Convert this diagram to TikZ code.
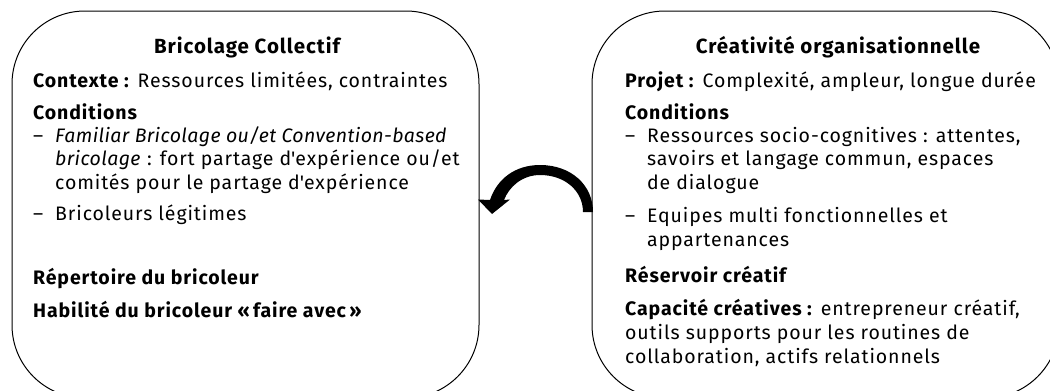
\documentclass[tikz,border=0pt]{standalone}
\usepackage{fontspec}
\setmainfont[LetterSpace=4.6, ItalicFeatures={LetterSpace=2.0}]{Fira Sans}
\begin{document}
\begin{tikzpicture}[x=1pt,y=-1pt,
  txt/.style={anchor=base west, inner sep=0pt, font=\fontsize{19.5}{23}\selectfont},
  ttl/.style={anchor=base, inner sep=0pt, font=\fontsize{20.5}{24}\selectfont\bfseries},
  panel/.style={draw, line width=1pt, rounded corners=73pt, minimum width=467pt, minimum height=387pt, inner sep=0pt}]
\useasboundingbox (0,0) rectangle (1050,391);
\begin{scope}
\clip (0,0) rectangle (1050,391);
\node[panel] (L) at (245.5,204.5) {};
\node[panel] (R) at (825.5,204.5) {};
\end{scope}
% left panel text
\node[ttl] (lt) at (247,53) {Bricolage Collectif};
\node[txt] (l1) at (33,87) {\textbf{Contexte :} Ressources limitées, contraintes};
\node[txt] (l2) at (33,119) {\textbf{Conditions}};
\node[txt] (l3d) at (33,142) {–};
\node[txt] (l3) at (55,142) {\textit{Familiar Bricolage ou/et Convention-based}};
\node[txt] (l4) at (55,165) {\textit{bricolage} : fort partage d\textquotesingle expérience ou/et};
\node[txt] (l5) at (55,189) {comités pour le partage d\textquotesingle expérience};
\node[txt] (l6d) at (33,220) {–};
\node[txt] (l6) at (55,220) {Bricoleurs légitimes};
\node[txt] (l7) at (33,284) {\textbf{Répertoire du bricoleur}};
\node[txt] (l8) at (33,317) {\textbf{Habilité du bricoleur «\,faire avec\,»}};
% right panel text
\node[ttl] (rt) at (838,53) {Créativité organisationnelle};
\node[txt] (r1) at (625,87) {\textbf{Projet :} Complexité, ampleur, longue durée};
\node[txt] (r2) at (625,119) {\textbf{Conditions}};
\node[txt] (r3d) at (625,142) {–};
\node[txt] (r3) at (647,142) {Ressources socio-cognitives : attentes,};
\node[txt] (r4) at (647,165) {savoirs et langage commun, espaces};
\node[txt] (r5) at (647,189) {de dialogue};
\node[txt] (r6d) at (625,222) {–};
\node[txt] (r6) at (647,222) {Equipes multi fonctionnelles et};
\node[txt] (r7) at (647,246) {appartenances};
\node[txt] (r8) at (625,282) {\textbf{Réservoir créatif}};
\node[txt] (r9) at (625,315) {\textbf{Capacité créatives :} entrepreneur créatif,};
\node[txt] (r10) at (625,339) {outils supports pour les routines de};
\node[txt] (r11) at (625,363) {collaboration, actifs relationnels};
% curved arrow from right panel to left panel
\fill (490,200) .. controls (497,179) and (515,165) .. (540,165)
  .. controls (571,165) and (593,185) .. (593,212)
  -- (583,212)
  .. controls (583,191) and (565,175) .. (540,175)
  .. controls (522,175) and (509,187) .. (504,200)
  -- (510,199.5) -- (492,214) -- (478,199.5) -- cycle;
\end{tikzpicture}
\end{document}
